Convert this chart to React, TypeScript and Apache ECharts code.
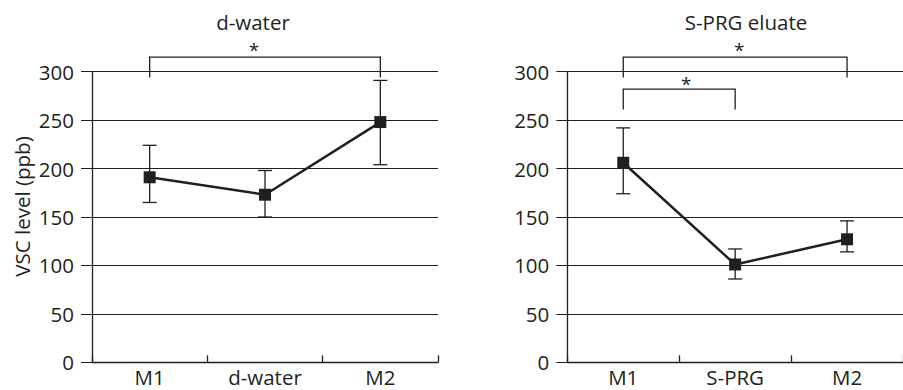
import React, { useEffect, useRef } from "react";
import * as echarts from "echarts";

// Two panels: VSC level at M1 / treatment / M2, mean with error range
const CATEGORIES_WATER = ["M1", "d-water", "M2"];
const MEAN_WATER = [191, 173, 248];
const UPPER_WATER = [224, 198, 291];
const LOWER_WATER = [165, 150, 204];

const CATEGORIES_SPRG = ["M1", "S-PRG", "M2"];
const MEAN_SPRG = [206, 101, 127];
const UPPER_SPRG = [242, 117, 146];
const LOWER_SPRG = [174, 86, 114];

const PANEL_TITLES = ["d-water", "S-PRG eluate"];
const Y_AXIS_NAME = "VSC level (ppb)";
const Y_MIN = 0;
const Y_MAX = 300;
const Y_STEP = 50;

// Significance brackets: [from index, to index, bracket level, star level, star shift px]
const BRACKETS_WATER = [[0, 2, 315, 325, -11]];
const BRACKETS_SPRG = [
  [0, 2, 315, 326, 4],
  [0, 1, 282, 290, 7],
];
const LEG_DROP = 21;

const INK = "#231f20";
const FONT = "Open Sans";
const FS = 20.5;

function errorBarSeries(idx: number, cats: string[], lo: number[], hi: number[]) {
  return {
    type: "custom",
    xAxisIndex: idx,
    yAxisIndex: idx,
    z: 2,
    data: cats.map((_, i) => [i, lo[i], hi[i]]),
    encode: { x: 0, y: [1, 2] },
    renderItem: (params: any, api: any) => {
      const i = api.value(0);
      const low = api.coord([i, api.value(1)]);
      const high = api.coord([i, api.value(2)]);
      const cap = 7;
      const st = { stroke: INK, lineWidth: 1.3 };
      return {
        type: "group",
        children: [
          { type: "line", shape: { x1: high[0], y1: high[1], x2: low[0], y2: low[1] }, style: st },
          { type: "line", shape: { x1: high[0] - cap, y1: high[1], x2: high[0] + cap, y2: high[1] }, style: st },
          { type: "line", shape: { x1: low[0] - cap, y1: low[1], x2: low[0] + cap, y2: low[1] }, style: st },
        ],
      };
    },
  };
}

function bracketSeries(idx: number, brackets: number[][]) {
  return {
    type: "custom",
    xAxisIndex: idx,
    yAxisIndex: idx,
    clip: false,
    silent: true,
    z: 5,
    data: brackets,
    renderItem: (params: any, api: any) => {
      const a = api.value(0);
      const b = api.value(1);
      const level = api.value(2);
      const starLevel = api.value(3);
      const shift = api.value(4);
      const p1 = api.coord([a, level - LEG_DROP]);
      const p2 = api.coord([a, level]);
      const p3 = api.coord([b, level]);
      const p4 = api.coord([b, level - LEG_DROP]);
      const star = api.coord([a, starLevel]);
      const cx = (p2[0] + p3[0]) / 2 + shift;
      return {
        type: "group",
        children: [
          {
            type: "polyline",
            shape: { points: [p1, p2, p3, p4] },
            style: { stroke: INK, lineWidth: 1.3, fill: "none" },
          },
          {
            type: "text",
            x: cx,
            y: star[1] + 3,
            style: {
              text: "*",
              fill: INK,
              fontSize: 19,
              lineHeight: 10,
              fontFamily: FONT,
              align: "center",
              verticalAlign: "middle",
            },
          },
        ],
      };
    },
  };
}

function lineSeries(idx: number, values: number[]) {
  return {
    type: "line",
    xAxisIndex: idx,
    yAxisIndex: idx,
    z: 3,
    data: values,
    symbol: "rect",
    symbolSize: 12,
    lineStyle: { color: INK, width: 2.5 },
    itemStyle: { color: INK },
  };
}

function xAxisFor(idx: number, cats: string[]) {
  return {
    type: "category",
    gridIndex: idx,
    data: cats,
    boundaryGap: true,
    axisLine: { show: true, lineStyle: { color: INK, width: 1.3 } },
    axisTick: { show: true, inside: true, length: 7, lineStyle: { color: INK, width: 1.3 } },
    axisLabel: { color: INK, fontFamily: FONT, fontSize: FS, margin: 4 },
    splitLine: { show: false },
  };
}

function yAxisFor(idx: number) {
  return {
    type: "value",
    gridIndex: idx,
    min: Y_MIN,
    max: Y_MAX,
    interval: Y_STEP,
    axisLine: { show: true, lineStyle: { color: INK, width: 1.3 } },
    axisTick: { show: true, inside: false, length: 11, lineStyle: { color: INK, width: 1 } },
    axisLabel: { color: INK, fontFamily: FONT, fontSize: FS, margin: 18 },
    splitLine: { show: true, lineStyle: { color: INK, width: 1 } },
  };
}

function textEl(text: string, x: number, y: number, rotation = 0) {
  return {
    type: "text",
    x,
    y,
    rotation,
    style: {
      text,
      fill: INK,
      fontSize: FS,
      lineHeight: 18,
      fontFamily: FONT,
      align: "center",
      verticalAlign: "middle",
      textAlign: "center",
      textVerticalAlign: "middle",
    },
  };
}

export default function App() {
  const ref = useRef<HTMLDivElement>(null);

  useEffect(() => {
    if (!ref.current) return;
    const chart = echarts.init(ref.current, null, { renderer: "svg" });
    chart.setOption({
      animation: false,
      backgroundColor: "#ffffff",
      grid: [
        { left: 92, right: 465, top: 71.7, bottom: 27.7, containLabel: false },
        { left: 567.3, right: -11, top: 71.7, bottom: 27.7, containLabel: false },
      ],
      xAxis: [xAxisFor(0, CATEGORIES_WATER), xAxisFor(1, CATEGORIES_SPRG)],
      yAxis: [yAxisFor(0), yAxisFor(1)],
      graphic: [
        textEl(PANEL_TITLES[0], 253, 21.5),
        textEl(PANEL_TITLES[1], 746, 21.5),
        textEl(Y_AXIS_NAME, 22, 206.5, Math.PI / 2),
      ],
      series: [
        errorBarSeries(0, CATEGORIES_WATER, LOWER_WATER, UPPER_WATER),
        lineSeries(0, MEAN_WATER),
        bracketSeries(0, BRACKETS_WATER),
        errorBarSeries(1, CATEGORIES_SPRG, LOWER_SPRG, UPPER_SPRG),
        lineSeries(1, MEAN_SPRG),
        bracketSeries(1, BRACKETS_SPRG),
      ],
    });
    return () => chart.dispose();
  }, []);

  return (
    <div
      ref={ref}
      style={{ position: "fixed", left: 0, top: 0, width: 903, height: 390 }}
    />
  );
}
